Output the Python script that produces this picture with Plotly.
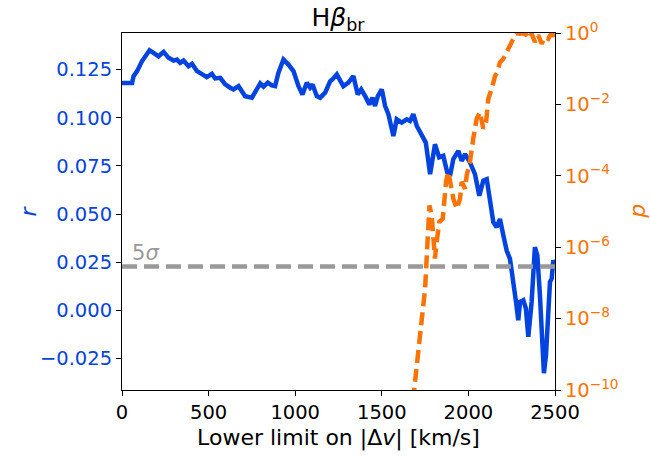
import plotly.graph_objects as go

# Correlation coefficient r versus the lower cut on |Δv| (km/s)
r_dv = [0, 58, 67, 87, 115, 159, 182, 211, 240, 269, 298, 317, 336, 355, 384, 404,
        433, 462, 490, 519, 538, 567, 596, 625, 644, 673, 692, 711, 750, 779, 798,
        817, 842, 865, 884, 903, 932, 961, 990, 1019, 1042, 1067, 1086, 1100, 1125,
        1144, 1173, 1202, 1215, 1240, 1259, 1278, 1307, 1336, 1361, 1381, 1404, 1428,
        1446, 1461, 1477, 1500, 1519, 1538, 1567, 1586, 1615, 1644, 1663, 1682, 1702,
        1731, 1754, 1779, 1807, 1831, 1855, 1878, 1894, 1913, 1942, 1961, 1981, 2009,
        2038, 2063, 2086, 2106, 2125, 2144, 2163, 2182, 2202, 2221, 2240, 2259, 2275,
        2288, 2298, 2317, 2332, 2346, 2365, 2384, 2398, 2413, 2423, 2436, 2448, 2461,
        2471, 2481, 2490, 2500]
r_val = [0.118, 0.118, 0.1216, 0.1242, 0.1293, 0.1350, 0.1337, 0.1319, 0.1342, 0.1311,
         0.1297, 0.1302, 0.1285, 0.1297, 0.1267, 0.1280, 0.1242, 0.1228, 0.1211, 0.1228,
         0.1204, 0.1207, 0.1173, 0.1156, 0.1147, 0.1164, 0.1138, 0.1112, 0.1104, 0.1147,
         0.1178, 0.1161, 0.1182, 0.1168, 0.1164, 0.1233, 0.1302, 0.1276, 0.1242, 0.1164,
         0.1121, 0.1182, 0.1156, 0.1173, 0.1112, 0.1104, 0.1130, 0.1190, 0.1199, 0.1225,
         0.1199, 0.1164, 0.1182, 0.1216, 0.1121, 0.1147, 0.1112, 0.1069, 0.1104, 0.1061,
         0.1112, 0.1147, 0.1061, 0.1018, 0.0905, 0.0992, 0.0975, 0.0992, 0.0983, 0.1018,
         0.0957, 0.0905, 0.0871, 0.0707, 0.0862, 0.0794, 0.0802, 0.0716, 0.0698, 0.0785,
         0.0828, 0.0776, 0.0811, 0.0768, 0.0707, 0.0595, 0.0673, 0.0681, 0.0552, 0.0457,
         0.0431, 0.0474, 0.0388, 0.0310, 0.0267, 0.0164, 0.0043, -0.0052, 0.0043, 0.0052,
         0.0009, -0.0138, 0.0043, 0.0328, 0.0285, 0.0078, -0.0146, -0.0327, -0.0233,
         0.0061, 0.0147, 0.0164, 0.0259, 0.0240]

# Matching p-values, stored as log10(p)
p_dv = [1680, 1702, 1731, 1750, 1763, 1769, 1775, 1788, 1798, 1807, 1817, 1832, 1852,
        1871, 1884, 1898, 1913, 1933, 1952, 1961, 1981, 1990, 2009, 2028, 2048, 2067,
        2086, 2102, 2115, 2134, 2154, 2167, 2182, 2202, 2221, 2240, 2259, 2275, 2298,
        2317, 2336, 2351, 2365, 2384, 2403, 2423, 2442, 2461, 2477, 2487, 2500]
log10_p = [-10.3, -9.39, -8.00, -7.16, -5.95, -5.29, -4.83, -5.11, -5.67, -6.32, -5.85,
           -5.29, -5.20, -4.17, -3.89, -4.27, -4.64, -4.92, -4.64, -4.17, -4.36, -3.99,
           -3.61, -2.96, -2.40, -2.22, -2.68, -2.50, -1.84, -1.57, -1.20, -1.10, -0.82,
           -0.72, -0.53, -0.30, -0.11, -0.01, -0.02, -0.01, -0.06, -0.16, -0.02, -0.25,
           -0.06, -0.30, -0.11, -0.16, -0.02, -0.06, -0.05]
p_val = [10 ** v for v in log10_p]

# One-sided 5 sigma threshold
p_5sigma = 2.87e-7
x_range = [0, 2500]

x_ticks = [0, 500, 1000, 1500, 2000, 2500]
r_ticks = [-0.025, 0.0, 0.025, 0.05, 0.075, 0.1, 0.125]
r_ticktext = ["−0.025", "0.000", "0.025", "0.050", "0.075", "0.100", "0.125"]
p_ticks = [1e-10, 1e-8, 1e-6, 1e-4, 1e-2, 1e0]
p_ticktext = ["10<sup>−10</sup>", "10<sup>−8</sup>", "10<sup>−6</sup>",
              "10<sup>−4</sup>", "10<sup>−2</sup>", "10<sup>0</sup>"]

BLUE = "#0343df"
ORANGE = "#f97306"
GREY = "#999999"
FONT = "DejaVu Sans"
TICK_SIZE = 19.5
LABEL_SIZE = 22

fig = go.Figure()
fig.add_trace(go.Scatter(x=r_dv, y=r_val, mode="lines", yaxis="y",
                         line=dict(color=BLUE, width=4.5), showlegend=False))
fig.add_trace(go.Scatter(x=p_dv, y=p_val, mode="lines", yaxis="y2",
                         line=dict(color=ORANGE, width=4.5, dash="13px,6px"),
                         showlegend=False))
fig.add_trace(go.Scatter(x=x_range, y=[p_5sigma, p_5sigma], mode="lines", yaxis="y2",
                         line=dict(color=GREY, width=4.5, dash="15px,7px"),
                         showlegend=False))

fig.add_annotation(x=45, y=-6.542, xref="x", yref="y2", text="5<i>σ</i>",
                   showarrow=False, xanchor="left", yanchor="bottom", yshift=0,
                   font=dict(family=FONT, size=21, color=GREY))

# y-axis titles placed beside the tick labels
fig.add_annotation(x=-0.217, y=0.5, xref="paper", yref="paper", text="<i>r</i>",
                   showarrow=False, textangle=-90, xanchor="center", yanchor="middle",
                   font=dict(family=FONT, size=LABEL_SIZE, color=BLUE))
fig.add_annotation(x=1.19, y=0.5, xref="paper", yref="paper", text="<i>p</i>",
                   showarrow=False, textangle=-90, xanchor="center", yanchor="middle",
                   font=dict(family=FONT, size=LABEL_SIZE, color=ORANGE))

fig.update_layout(
    width=650, height=458,
    margin=dict(l=122, r=95, t=33, b=66),
    paper_bgcolor="white", plot_bgcolor="white",
    font=dict(family=FONT, size=TICK_SIZE, color="black"),
    title=dict(text="H<i>β</i><sub>br</sub>", x=0.52, xanchor="center",
               y=0.962, yanchor="middle", font=dict(size=25, color="black")),
    xaxis=dict(range=x_range, tickvals=x_ticks, showgrid=False, zeroline=False,
               showline=True, linecolor="black", linewidth=1, mirror=True,
               ticks="outside", ticklen=5, tickcolor="black",
               tickfont=dict(size=TICK_SIZE, color="black"),
               title=dict(text="Lower limit on |Δ<i>v</i>| [km/s]", standoff=6,
                          font=dict(size=LABEL_SIZE, color="black"))),
    yaxis=dict(range=[-0.0414, 0.144], tickvals=r_ticks, ticktext=r_ticktext,
               showgrid=False, zeroline=False, showline=True, linecolor="black",
               linewidth=1, ticks="outside", ticklen=5, tickcolor="black",
               tickfont=dict(size=TICK_SIZE, color=BLUE)),
    yaxis2=dict(type="log", range=[-10, 0], overlaying="y", side="right",
                tickvals=p_ticks, ticktext=p_ticktext, showgrid=False,
                zeroline=False, showline=True, linecolor="black", linewidth=1,
                ticks="outside", ticklen=5, tickcolor="black",
                tickfont=dict(size=TICK_SIZE, color=ORANGE)),
)

fig.write_html("out.html")
